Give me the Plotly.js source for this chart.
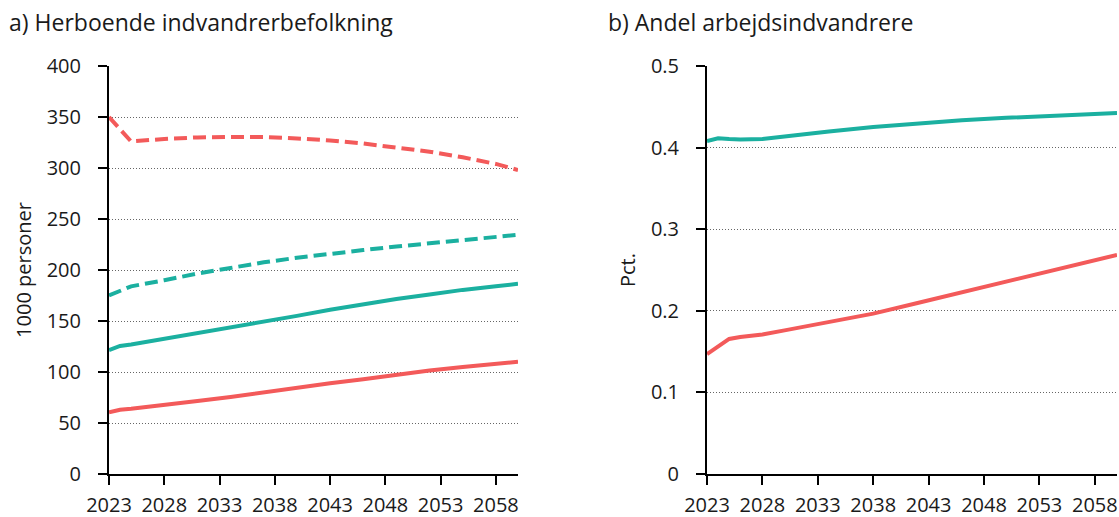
<!DOCTYPE html>
<html>
<head>
<meta charset="utf-8">
<script src="https://cdn.plot.ly/plotly-3.0.1.min.js"></script>
<style>
html,body{margin:0;padding:0;background:#fff;}
#chart{width:1119px;height:517px;}
</style>
</head>
<body>
<div id="chart"></div>
<script>
// Panel a) data (1000 personer)
const yearsA = [2023, 2024, 2025, 2028, 2031, 2034, 2037, 2040, 2043, 2046, 2049, 2052, 2055, 2058, 2060];
const redDashA  = [350, 338, 326, 328.5, 330, 330.5, 330.5, 329, 327, 324, 320, 316, 310.5, 304, 298];
const tealDashA = [175, 180, 184, 190, 196.5, 202, 207.5, 212, 216, 219.5, 223, 226, 229, 232.5, 234.5];
const tealA     = [121.5, 125.5, 127, 132.5, 138, 143.5, 149.5, 155, 161, 166.5, 171.5, 176, 180.5, 184, 186.5];
const redA      = [60.5, 63, 64, 67.5, 71.5, 75.5, 80, 85, 89, 93, 97.5, 101.5, 105, 108, 110];

// Panel b) data (Pct.)
const yearsB = [2023, 2024, 2025, 2026, 2028, 2030, 2034, 2038, 2042, 2046, 2050, 2054, 2058, 2060];
const tealB  = [0.408, 0.4115, 0.4105, 0.410, 0.4105, 0.4138, 0.4197, 0.4252, 0.4294, 0.4334, 0.4365, 0.4393, 0.4414, 0.4425];
const redB   = [0.147, 0.157, 0.1655, 0.168, 0.171, 0.176, 0.186, 0.1965, 0.2095, 0.2225, 0.236, 0.2495, 0.262, 0.2685];

const xTicks = [2023, 2028, 2033, 2038, 2043, 2048, 2053, 2058];
const yTicksA = [0, 50, 100, 150, 200, 250, 300, 350, 400];
const yTicksB = [0, 0.1, 0.2, 0.3, 0.4, 0.5];
const yTickTextB = ['0', '0.1', '0.2', '0.3', '0.4', '0.5'];

const titleA = 'a) Herboende indvandrerbefolkning';
const titleB = 'b) Andel arbejdsindvandrere';
const yTitleA = '1000 personer';
const yTitleB = 'Pct.';

const RED = '#F35A5A';
const TEAL = '#1BB0A0';
const LW = 4;
const FONT = 'Open Sans, Noto Sans, sans-serif';
const TXT = '#1a1a1a';

const traces = [
  {x: yearsA, y: redDashA, xaxis: 'x', yaxis: 'y', mode: 'lines', line: {color: RED, width: LW, dash: '13px,6px'}},
  {x: yearsA, y: tealDashA, xaxis: 'x', yaxis: 'y', mode: 'lines', line: {color: TEAL, width: LW, dash: '13px,6px'}},
  {x: yearsA, y: tealA, xaxis: 'x', yaxis: 'y', mode: 'lines', line: {color: TEAL, width: LW}},
  {x: yearsA, y: redA, xaxis: 'x', yaxis: 'y', mode: 'lines', line: {color: RED, width: LW}},
  {x: yearsB, y: tealB, xaxis: 'x2', yaxis: 'y2', mode: 'lines', line: {color: TEAL, width: LW}},
  {x: yearsB, y: redB, xaxis: 'x2', yaxis: 'y2', mode: 'lines', line: {color: RED, width: LW}}
];

const W = 1119;
function xAxis(domain, anchor) {
  return {
    domain: domain, anchor: anchor, range: [2023, 2060], tickvals: xTicks,
    showgrid: false, zeroline: false,
    showline: true, linecolor: '#000', linewidth: 2,
    ticks: 'outside', ticklen: 9, tickwidth: 2, tickcolor: '#000',
    tickfont: {family: FONT, size: 20, color: TXT},
    ticklabelstandoff: 3,
    automargin: false, fixedrange: true
  };
}
function yAxis(range, tickvals, ticktext, anchor, title) {
  const ax = {
    domain: [0, 1], anchor: anchor, range: range, tickvals: tickvals,
    showgrid: true, gridcolor: '#666', gridwidth: 1, griddash: '1px,2px',
    zeroline: false,
    showline: true, linecolor: '#000', linewidth: 2,
    ticks: 'outside', ticklen: 9, tickwidth: 2, tickcolor: '#000',
    tickfont: {family: FONT, size: 20, color: TXT},
    ticklabelstandoff: 13,
    title: {text: title, font: {family: FONT, size: 20, color: TXT}, standoff: 10},
    automargin: false, fixedrange: true
  };
  if (ticktext) ax.ticktext = ticktext;
  return ax;
}

const layout = {
  width: 1119, height: 517,
  margin: {l: 0, r: 0, t: 66, b: 43},
  paper_bgcolor: '#fff', plot_bgcolor: '#fff',
  showlegend: false,
  font: {family: FONT, color: TXT},
  xaxis: xAxis([109 / W, 518 / W], 'y'),
  yaxis: yAxis([0, 400], yTicksA, null, 'x', yTitleA),
  xaxis2: xAxis([707 / W, 1117 / W], 'y2'),
  yaxis2: yAxis([0, 0.5], yTicksB, yTickTextB, 'x2', yTitleB),
  annotations: [
    {text: titleA, xref: 'paper', yref: 'paper', x: 7 / W, y: 1, yshift: 44, xanchor: 'left', yanchor: 'middle', showarrow: false, font: {family: FONT, size: 23, color: TXT}},
    {text: titleB, xref: 'paper', yref: 'paper', x: 606 / W, y: 1, yshift: 44, xanchor: 'left', yanchor: 'middle', showarrow: false, font: {family: FONT, size: 23, color: TXT}}
  ]
};

Plotly.newPlot('chart', traces, layout, {displayModeBar: false, staticPlot: true});
</script>
</body>
</html>
